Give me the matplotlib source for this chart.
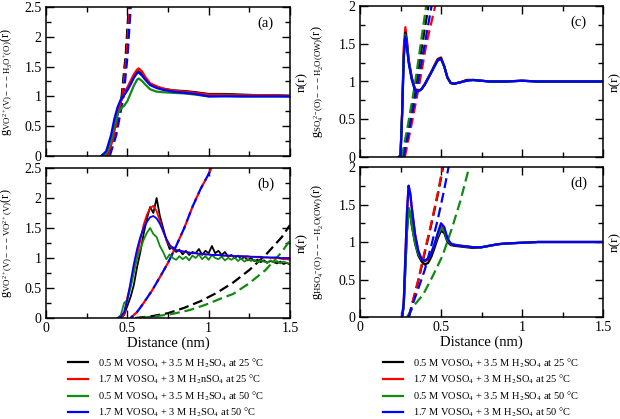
import numpy as np
import matplotlib
matplotlib.use('Agg')
import matplotlib.pyplot as plt
from matplotlib.lines import Line2D

plt.rcParams['font.family'] = ['Liberation Serif', 'DejaVu Serif']
plt.rcParams['mathtext.fontset'] = 'stix'

colors = ['black', 'red', '#108a10', 'blue']

labels_left = [r'0.5 M VOSO$_4$ + 3.5 M H$_2$SO$_4$ at 25 °C',
               r'1.7 M VOSO$_4$ + 3 M H$_2$nSO$_4$ at 25 °C',
               r'0.5 M VOSO$_4$ + 3.5 M H$_2$SO$_4$ at 50 °C',
               r'1.7 M VOSO$_4$ + 3 M H$_2$SO$_4$ at 50 °C']
labels_right = [r'0.5 M VOSO$_4$ + 3.5 M H$_2$SO$_4$ at 25 °C',
                r'1.7 M VOSO$_4$ + 3 M H$_2$SO$_4$ at 25 °C',
                r'0.5 M VOSO$_4$ + 3.5 M H$_2$SO$_4$ at 50 °C',
                r'1.7 M VOSO$_4$ + 3 M H$_2$SO$_4$ at 50 °C']

# ---- panel (a): VO2+ -- H3O+ ----
r_a = [0.34, 0.37, 0.40, 0.42, 0.44, 0.46, 0.48, 0.50, 0.52, 0.54, 0.56, 0.57, 0.59,
       0.61, 0.64, 0.68, 0.72, 0.78, 0.85, 0.92, 1.00, 1.10, 1.20, 1.30, 1.40, 1.50]
g_a_black = [0, 0.02, 0.20, 0.45, 0.72, 0.92, 1.03, 1.12, 1.22, 1.33, 1.41, 1.42, 1.38,
             1.30, 1.21, 1.16, 1.13, 1.10, 1.09, 1.07, 1.04, 1.04, 1.03, 1.02, 1.02, 1.01]
g_a_red = [0, 0.02, 0.18, 0.42, 0.70, 0.92, 1.05, 1.15, 1.26, 1.37, 1.45, 1.47, 1.42,
           1.33, 1.22, 1.17, 1.13, 1.10, 1.08, 1.06, 1.03, 1.03, 1.02, 1.02, 1.02, 1.01]
g_a_green = [0, 0.03, 0.25, 0.50, 0.70, 0.80, 0.84, 0.92, 1.05, 1.18, 1.28, 1.30, 1.26,
             1.20, 1.12, 1.08, 1.07, 1.06, 1.05, 1.03, 1.00, 1.01, 1.00, 1.00, 1.00, 1.00]
g_a_blue = [0, 0.08, 0.35, 0.62, 0.82, 0.95, 1.02, 1.10, 1.20, 1.31, 1.39, 1.40, 1.35,
            1.28, 1.19, 1.14, 1.11, 1.08, 1.06, 1.04, 1.00, 1.00, 1.00, 1.00, 1.00, 1.00]
g_a = [g_a_black, g_a_red, g_a_green, g_a_blue]

rn_a = [[0.380, 0.420, 0.465, 0.490, 0.510, 0.530],
        [0.385, 0.425, 0.470, 0.495, 0.515, 0.535],
        [0.382, 0.422, 0.467, 0.492, 0.512, 0.532],
        [0.392, 0.432, 0.477, 0.502, 0.522, 0.542]]
n_a = [0, 0.35, 1.0, 1.7, 2.55, 3.3]

# ---- panel (b): VO2+ -- VO2+ ----
r_b = np.round(np.arange(0.44, 1.501, 0.02), 2)
g_b_black = [0.00, 0.00, 0.05, 0.20, 0.35, 0.55, 0.85, 1.10, 1.40, 1.65,
             1.85, 1.75, 2.00, 1.70, 1.50, 1.30, 1.15, 1.18, 1.10, 1.14,
             1.06, 1.12, 1.05, 1.10, 1.08, 1.15, 1.05, 1.12, 1.08, 1.20,
             1.08, 1.12, 1.05, 1.10, 1.02, 1.05, 1.00, 1.04, 0.98, 1.02,
             0.96, 1.00, 0.95, 0.97, 0.93, 0.96, 0.92, 0.95, 0.93, 0.91,
             0.94, 0.90, 0.92, 0.89]
g_b_red = [0.00, 0.00, 0.05, 0.35, 0.55, 0.80, 1.05, 1.30, 1.55, 1.72,
           1.83, 1.87, 1.78, 1.62, 1.45, 1.30, 1.20, 1.15, 1.13, 1.12,
           1.11, 1.10, 1.09, 1.08, 1.08, 1.07, 1.07, 1.06, 1.06, 1.05,
           1.05, 1.05, 1.04, 1.04, 1.04, 1.03, 1.03, 1.03, 1.03, 1.02,
           1.02, 1.02, 1.02, 1.01, 1.01, 1.01, 1.01, 1.00, 1.00, 1.00,
           0.99, 0.98, 0.98, 0.97]
g_b_green = [0.00, 0.05, 0.25, 0.30, 0.50, 0.75, 1.00, 1.15, 1.30, 1.42,
             1.50, 1.40, 1.35, 1.20, 1.10, 0.98, 1.06, 1.00, 0.97, 1.03,
             0.98, 1.02, 0.96, 1.04, 1.00, 1.06, 0.98, 1.03, 0.97, 1.05,
             1.00, 0.98, 1.02, 0.96, 1.00, 0.97, 1.01, 0.95, 0.99, 0.94,
             0.98, 0.95, 0.97, 0.93, 0.96, 0.94, 0.92, 0.96, 0.93, 0.95,
             0.91, 0.94, 0.92, 0.90]
g_b_blue = [0.00, 0.02, 0.10, 0.30, 0.60, 0.90, 1.15, 1.35, 1.50, 1.60,
            1.68, 1.70, 1.66, 1.57, 1.45, 1.32, 1.22, 1.16, 1.13, 1.12,
            1.11, 1.10, 1.09, 1.08, 1.08, 1.07, 1.07, 1.06, 1.06, 1.05,
            1.05, 1.05, 1.04, 1.04, 1.04, 1.04, 1.03, 1.03, 1.03, 1.03,
            1.03, 1.02, 1.02, 1.02, 1.02, 1.01, 1.01, 1.01, 1.01, 1.01,
            1.00, 1.00, 1.00, 1.00]
g_b = [g_b_black, g_b_red, g_b_green, g_b_blue]

rn_b_fast = [0.52, 0.56, 0.60, 0.65, 0.70, 0.75, 0.80, 0.85, 0.90, 0.95, 1.00, 1.05]
n_b_fast = [0, 0.10, 0.25, 0.45, 0.68, 0.92, 1.20, 1.50, 1.85, 2.15, 2.40, 2.70]
rn_b_black = [0.55, 0.65, 0.75, 0.85, 0.95, 1.05, 1.15, 1.25, 1.35, 1.45, 1.50]
n_b_black = [0, 0.03, 0.08, 0.17, 0.28, 0.42, 0.59, 0.80, 1.05, 1.35, 1.55]
rn_b_green = [0.58, 0.68, 0.78, 0.88, 0.98, 1.08, 1.15, 1.25, 1.35, 1.45, 1.50]
n_b_green = [0, 0.03, 0.07, 0.13, 0.22, 0.33, 0.40, 0.58, 0.80, 1.10, 1.30]

# ---- panel (c): SO4 2- -- H2O ----
r_c = [0.24, 0.25, 0.26, 0.27, 0.28, 0.29, 0.30, 0.32, 0.34, 0.36, 0.38, 0.40, 0.42,
       0.44, 0.46, 0.48, 0.50, 0.52, 0.54, 0.56, 0.58, 0.62, 0.66, 0.70, 0.75, 0.80,
       0.90, 1.00, 1.10, 1.20, 1.30, 1.40, 1.50]
g_c_black = [0, 0.02, 0.58, 1.35, 1.65, 1.50, 1.28, 1.04, 0.89, 0.87, 0.90, 0.96, 1.04,
             1.12, 1.21, 1.29, 1.31, 1.20, 1.05, 0.98, 0.97, 0.99, 1.02, 1.02, 1.01, 1.00,
             1.00, 1.01, 1.00, 1.00, 1.00, 1.00, 1.00]
g_c_red = [0, 0.02, 0.60, 1.45, 1.72, 1.55, 1.30, 1.05, 0.90, 0.87, 0.90, 0.97, 1.05,
           1.13, 1.22, 1.30, 1.32, 1.20, 1.05, 0.98, 0.97, 0.99, 1.02, 1.02, 1.01, 1.00,
           1.00, 1.01, 1.00, 1.00, 1.00, 1.00, 1.00]
g_c_green = [0, 0.02, 0.57, 1.33, 1.62, 1.48, 1.27, 1.03, 0.88, 0.87, 0.90, 0.96, 1.04,
             1.12, 1.20, 1.28, 1.30, 1.20, 1.05, 0.98, 0.97, 0.99, 1.01, 1.02, 1.01, 1.00,
             1.00, 1.01, 1.00, 1.00, 1.00, 1.00, 1.00]
g_c_blue = [0, 0.02, 0.55, 1.30, 1.60, 1.45, 1.25, 1.02, 0.88, 0.87, 0.90, 0.96, 1.04,
            1.12, 1.20, 1.28, 1.30, 1.20, 1.05, 0.98, 0.97, 0.99, 1.01, 1.02, 1.01, 1.00,
            1.00, 1.01, 1.00, 1.00, 1.00, 1.00, 1.00]
g_c = [g_c_black, g_c_red, g_c_green, g_c_blue]

rn_c = [[0.265, 0.305, 0.345, 0.385, 0.430],
        [0.277, 0.320, 0.365, 0.410, 0.475],
        [0.258, 0.298, 0.338, 0.375, 0.415],
        [0.270, 0.312, 0.355, 0.400, 0.450]]
n_c = [0, 0.45, 0.95, 1.50, 2.10]

# ---- panel (d): HSO4- -- H2O ----
r_d = [0.26, 0.27, 0.28, 0.29, 0.30, 0.31, 0.32, 0.34, 0.36, 0.38, 0.40, 0.42, 0.44,
       0.46, 0.48, 0.50, 0.52, 0.54, 0.56, 0.58, 0.62, 0.66, 0.70, 0.75, 0.80, 0.85,
       0.90, 1.00, 1.10, 1.20, 1.30, 1.40, 1.50]
g_d_black = [0, 0.15, 0.65, 1.15, 1.45, 1.38, 1.22, 0.98, 0.82, 0.74, 0.70, 0.72, 0.80,
             0.92, 1.05, 1.15, 1.12, 1.00, 0.96, 0.95, 0.94, 0.93, 0.92, 0.93, 0.95, 0.97,
             0.98, 0.99, 1.00, 1.00, 1.00, 1.00, 1.00]
g_d_red = [0, 0.20, 0.80, 1.40, 1.75, 1.65, 1.45, 1.10, 0.88, 0.77, 0.74, 0.77, 0.85,
           0.96, 1.10, 1.21, 1.17, 1.03, 0.97, 0.96, 0.95, 0.94, 0.93, 0.93, 0.95, 0.97,
           0.98, 0.99, 1.00, 1.00, 1.00, 1.00, 1.00]
g_d_green = [0, 0.15, 0.65, 1.15, 1.45, 1.38, 1.22, 0.99, 0.84, 0.77, 0.75, 0.78, 0.86,
             0.97, 1.09, 1.18, 1.15, 1.02, 0.98, 0.97, 0.95, 0.94, 0.93, 0.93, 0.95, 0.97,
             0.98, 0.99, 1.00, 1.00, 1.00, 1.00, 1.00]
g_d_blue = [0, 0.20, 0.80, 1.40, 1.75, 1.65, 1.45, 1.10, 0.88, 0.77, 0.75, 0.78, 0.85,
            0.97, 1.12, 1.25, 1.20, 1.05, 0.98, 0.96, 0.95, 0.94, 0.93, 0.93, 0.95, 0.97,
            0.98, 0.99, 1.00, 1.00, 1.00, 1.00, 1.00]
g_d = [g_d_black, g_d_red, g_d_green, g_d_blue]

rn_d_red = [0.30, 0.33, 0.36, 0.40, 0.44, 0.48, 0.52]
n_d_red = [0, 0.25, 0.50, 0.88, 1.25, 1.65, 2.10]
rn_d_black = [0.302, 0.332, 0.362, 0.402, 0.442, 0.482, 0.522]
rn_d_blue = [0.30, 0.33, 0.36, 0.40, 0.44, 0.48, 0.52, 0.56]
n_d_blue = [0, 0.20, 0.38, 0.63, 0.95, 1.30, 1.70, 2.15]
rn_d_green = [0.29, 0.34, 0.39, 0.45, 0.51, 0.57, 0.62, 0.68]
n_d_green = [0, 0.17, 0.30, 0.55, 0.82, 1.20, 1.55, 2.05]


fig = plt.figure(figsize=(6.2, 4.19), dpi=100)
W, H = 620.0, 419.0


def make_ax(x0, x1, y0, y1):
    return fig.add_axes([x0 / W, 1 - y1 / H, (x1 - x0) / W, (y1 - y0) / H])


ax_a = make_ax(46, 290, 7, 156)
ax_b = make_ax(46, 290, 168, 318)
ax_c = make_ax(360, 603, 6, 157)
ax_d = make_ax(360, 603, 167, 317)

lw = 1.6
dash = (0, (4.5, 2.2))

for i in [2, 0, 1, 3]:
    ax_a.plot(rn_a[i], n_a, color=colors[i], lw=lw, ls=dash)
for i in range(4):
    ax_a.plot(r_a, g_a[i], color=colors[i], lw=lw)

ax_b.plot(rn_b_black, n_b_black, color=colors[0], lw=lw, ls=dash)
ax_b.plot(rn_b_green, n_b_green, color=colors[2], lw=lw, ls=dash)
ax_b.plot(rn_b_fast, n_b_fast, color=colors[1], lw=lw, ls=dash)
ax_b.plot(rn_b_fast, n_b_fast, color=colors[3], lw=lw, ls=(3, (4.5, 2.2)))
for i in range(4):
    ax_b.plot(r_b, g_b[i], color=colors[i], lw=1.3)

for i in range(4):
    ax_c.plot(rn_c[i], n_c, color=colors[i], lw=lw, ls=dash)
for i in [1, 0, 2, 3]:
    ax_c.plot(r_c, g_c[i], color=colors[i], lw=lw)

ax_d.plot(rn_d_black, n_d_red, color=colors[0], lw=lw, ls=dash)
ax_d.plot(rn_d_red, n_d_red, color=colors[1], lw=lw, ls=dash)
ax_d.plot(rn_d_green, n_d_green, color=colors[2], lw=lw, ls=dash)
ax_d.plot(rn_d_blue, n_d_blue, color=colors[3], lw=lw, ls=dash)
for i in range(4):
    ax_d.plot(r_d, g_d[i], color=colors[i], lw=lw)

ylabels = [r'$\mathregular{g_{VO^{2+}(V)---H_3O^{+}(O)}(r)}$',
           r'$\mathregular{g_{VO^{2+}(V)---VO^{2+}(V)}(r)}$',
           r'$\mathregular{g_{SO_4^{\ 2-}(O)---H_2O(OW)}(r)}$',
           r'$\mathregular{g_{HSO_4^{\ -}(O)---H_2O(OW)}(r)}$']
tags = ['(a)', '(b)', '(c)', '(d)']
ymax = [2.5, 2.5, 2.0, 2.0]

for k, ax in enumerate([ax_a, ax_b, ax_c, ax_d]):
    ax.set_xlim(0, 1.5)
    ax.set_ylim(0, ymax[k])
    ax.set_xticks([0, 0.5, 1, 1.5])
    ax.set_xticklabels(['0', '0.5', '1', '1.5'])
    ax.set_xticks([0.25, 0.75, 1.25], minor=True)
    yt = np.arange(0, ymax[k] + 0.01, 0.5)
    ax.set_yticks(yt)
    ax.set_yticklabels(['%g' % v for v in yt])
    ax.set_yticks(np.arange(0.25, ymax[k], 0.5), minor=True)
    ax.tick_params(which='both', direction='in', top=True, right=True,
                   labelsize=10, width=1.0, pad=3)
    ax.tick_params(which='major', length=6)
    ax.tick_params(which='minor', length=3.5)
    for s in ax.spines.values():
        s.set_linewidth(1.1)
    ax.set_ylabel(ylabels[k], fontsize=9)
    ax.text(0.9, 0.89, tags[k], transform=ax.transAxes, fontsize=10.5,
            ha='center', va='center')
    if k in (0, 2):
        ax.tick_params(labelbottom=False)
    else:
        ax.set_xlabel('Distance (nm)', fontsize=10.5, labelpad=1)

for ax in [ax_a, ax_b]:
    ax.yaxis.set_label_coords(-0.125, 0.5)
    ax.text(1.05, 0.5, 'n(r)', transform=ax.transAxes, rotation=90,
            fontsize=9.5, ha='center', va='center')
for ax in [ax_c, ax_d]:
    ax.yaxis.set_label_coords(-0.14, 0.5)
    ax.text(1.05, 0.5, 'n(r)', transform=ax.transAxes, rotation=90,
            fontsize=9.5, ha='center', va='center')

handles = [Line2D([], [], color=c, lw=1.6) for c in colors]
fig.legend(handles, labels_left, loc='upper left', bbox_to_anchor=(68 / W, 1 - 356 / H),
           frameon=False, fontsize=7.5, handlelength=1.9, handletextpad=1.0,
           labelspacing=0.3, borderpad=0, borderaxespad=0)
fig.legend(handles, labels_right, loc='upper left', bbox_to_anchor=(383 / W, 1 - 356 / H),
           frameon=False, fontsize=7.5, handlelength=1.9, handletextpad=1.0,
           labelspacing=0.3, borderpad=0, borderaxespad=0)

fig.savefig('out.png', dpi=100)
